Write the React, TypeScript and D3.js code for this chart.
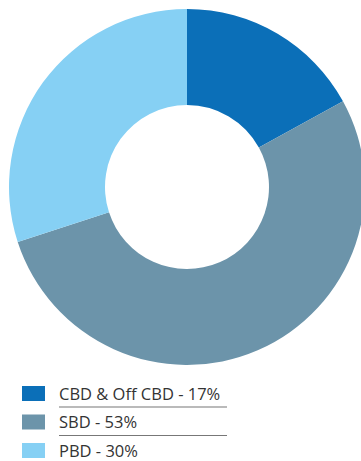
import React from "react";
import * as d3 from "d3";

const categories = ["CBD & Off CBD", "SBD", "PBD"];
const values = [17, 53, 30];
const colors = ["#0B6FB8", "#6C94AA", "#86D0F4"];

export default function App() {
  const W = 361, H = 461;
  const cx = 187, cy = 187, outerR = 178, innerR = 82;
  const pie = d3.pie<number>().sort(null).value((d) => d);
  const arcs = pie(values);
  const arc = d3.arc<d3.PieArcDatum<number>>().innerRadius(innerR).outerRadius(outerR);
  const legendY = d3.scaleLinear().domain([0, 1]).range([386, 414.5]);
  return (
    <svg width={W} height={H} style={{ position: "absolute", left: 0, top: 0 }}>
      <rect width={W} height={H} fill="#fff" />
      <g transform={`translate(${cx},${cy})`}>
        {arcs.map((a, i) => (
          <path key={i} d={arc(a) || ""} fill={colors[i]} />
        ))}
      </g>
      {categories.map((c, i) => {
        const y = legendY(i);
        return (
          <g key={c}>
            <rect x={22} y={y} width={23} height={15} fill={colors[i]} />
            <text x={59} y={y + 13.5} fontFamily="'Open Sans'" fontSize={16.5} fill="#333">
              {`${c} - ${values[i]}%`}
            </text>
            {i < categories.length - 1 && (
              <line x1={59} x2={227} y1={y + 21} y2={y + 21} stroke="#777" strokeWidth={1.2} />
            )}
          </g>
        );
      })}
    </svg>
  );
}
